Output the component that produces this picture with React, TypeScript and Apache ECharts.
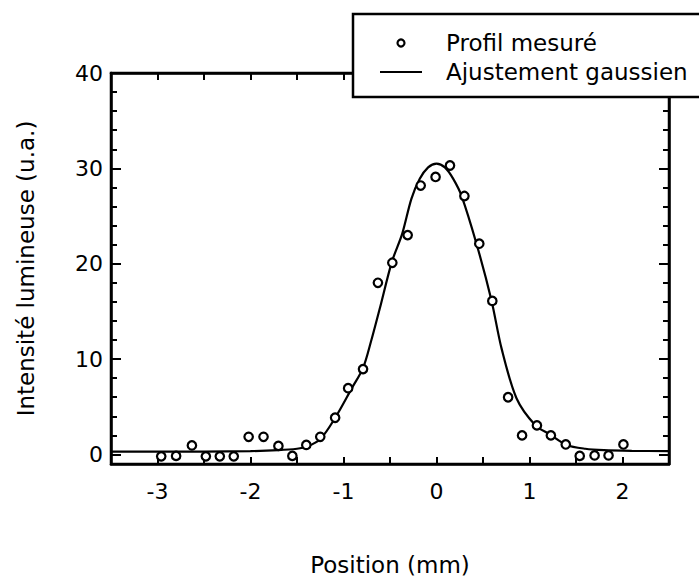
import React, { useEffect, useRef } from "react";
import * as echarts from "echarts";

// Measured profile (mm, a.u.)
const measuredX = [-2.96, -2.8, -2.63, -2.48, -2.33, -2.18, -2.02, -1.86, -1.7, -1.55, -1.4, -1.25, -1.09, -0.95, -0.79, -0.63, -0.475, -0.31, -0.17, -0.01, 0.145, 0.3, 0.46, 0.6, 0.77, 0.92, 1.08, 1.23, 1.39, 1.54, 1.7, 1.85, 2.01];
const measuredY = [-0.2, -0.15, 0.95, -0.2, -0.2, -0.2, 1.85, 1.85, 0.9, -0.15, 1.0, 1.85, 3.85, 6.95, 8.95, 18.0, 20.1, 23.0, 28.2, 29.1, 30.3, 27.1, 22.1, 16.1, 6.0, 2.0, 3.05, 2.0, 1.05, -0.15, -0.1, -0.1, 1.05];

// Gaussian fit curve
const fitX = [-3.5, -2.5, -2.0, -1.7, -1.5, -1.4, -1.25, -1.08, -0.91, -0.79, -0.7, -0.61, -0.48, -0.37, -0.27, -0.18, -0.09, 0, 0.09, 0.18, 0.27, 0.43, 0.59, 0.7, 0.86, 1.06, 1.22, 1.4, 1.6, 1.8, 2.1, 2.5];
const fitY = [0.3, 0.3, 0.35, 0.45, 0.6, 0.8, 1.6, 4.0, 6.96, 9.05, 12.0, 15.3, 20.2, 23.1, 26.8, 28.9, 30.1, 30.5, 30.1, 28.9, 27.1, 22.1, 16.2, 11.1, 5.9, 3.1, 2.1, 1.0, 0.6, 0.45, 0.38, 0.35];

const yMajorTicks = [0, 10, 20, 30, 40];
const yMinorTicks = [2, 4, 6, 8, 12, 14, 16, 18, 22, 24, 26, 28, 32, 34, 36, 38];
const legendLabels = ["Profil mesuré", "Ajustement gaussien"];
const xTitle = "Position (mm)";
const yTitle = "Intensité lumineuse (u.a.)";

const FONT = "'DejaVu Sans', sans-serif";

export default function App() {
  const ref = useRef<HTMLDivElement>(null);
  useEffect(() => {
    if (!ref.current) return;
    const chart = echarts.init(ref.current, undefined, { renderer: "svg" });
    const line = { show: true, onZero: false, lineStyle: { color: "#000", width: 2.5 } };
    const noLine = { show: false, onZero: false };
    const yBase = { type: "value", min: -1, max: 40, splitLine: { show: false } };
    const xBase = {
      type: "value",
      min: -3.5,
      max: 2.5,
      interval: 0.5,
      splitLine: { show: false },
      axisLine: line,
      axisTick: { show: true, inside: true, length: 7, lineStyle: { color: "#000", width: 2 } },
    };
    const scatterData = measuredX.map((x, i) => [x, measuredY[i]]);
    const fitData = fitX.map((x, i) => [x, fitY[i]]);
    chart.setOption({
      animation: false,
      backgroundColor: "#fff",
      grid: { left: 111, top: 73, right: 30, bottom: 114, show: true, borderColor: "#000", borderWidth: 2.5 },
      xAxis: [
        {
          ...xBase,
          position: "bottom",
          axisLabel: {
            color: "#000",
            fontSize: 22,
            fontFamily: FONT,
            margin: 16,
            formatter: (v: number) => (Math.abs(v - Math.round(v)) < 1e-9 ? String(Math.round(v)) : ""),
          },
          name: xTitle,
          nameLocation: "middle",
          nameGap: 89,
          nameTextStyle: { color: "#000", fontSize: 23, fontFamily: FONT },
        },
        { ...xBase, position: "top", axisLabel: { show: false } },
      ],
      yAxis: [
        {
          ...yBase,
          position: "left",
          axisLine: line,
          axisTick: { show: true, inside: true, length: 10, customValues: yMajorTicks, lineStyle: { color: "#000", width: 2 } },
          axisLabel: { customValues: yMajorTicks, color: "#000", fontSize: 22, fontFamily: FONT, margin: 8 },
          name: yTitle,
          nameLocation: "middle",
          nameGap: 74,
          nameTextStyle: { color: "#000", fontSize: 23, fontFamily: FONT },
        },
        {
          ...yBase,
          position: "left",
          axisLine: noLine,
          axisTick: { show: true, inside: true, length: 6, customValues: yMinorTicks, lineStyle: { color: "#000", width: 2 } },
          axisLabel: { show: false },
        },
        {
          ...yBase,
          position: "right",
          axisLine: line,
          axisTick: { show: true, inside: true, length: 10, customValues: yMajorTicks, lineStyle: { color: "#000", width: 2 } },
          axisLabel: { show: false },
        },
        {
          ...yBase,
          position: "right",
          axisLine: noLine,
          axisTick: { show: true, inside: true, length: 6, customValues: yMinorTicks, lineStyle: { color: "#000", width: 2 } },
          axisLabel: { show: false },
        },
      ],
      series: [
        {
          type: "line",
          name: legendLabels[1],
          data: fitData,
          smooth: 0.3,
          showSymbol: false,
          lineStyle: { color: "#000", width: 2.2 },
          z: 2,
        },
        {
          type: "scatter",
          name: legendLabels[0],
          data: scatterData,
          symbol: "circle",
          symbolSize: 8.5,
          itemStyle: { color: "#fff", borderColor: "#000", borderWidth: 2.2, opacity: 1 },
          z: 3,
        },
      ],
      graphic: [
        { type: "rect", z: 100, shape: { x: 353, y: 14, width: 360, height: 83 }, style: { fill: "#fff", stroke: "#000", lineWidth: 2.5 } },
        { type: "circle", z: 101, shape: { cx: 401, cy: 43, r: 3.5 }, style: { fill: "#fff", stroke: "#000", lineWidth: 2.2 } },
        { type: "line", z: 101, shape: { x1: 380, y1: 72, x2: 422, y2: 72 }, style: { stroke: "#000", lineWidth: 2.2 } },
        { type: "text", z: 101, x: 446, y: 43, style: { text: legendLabels[0], fill: "#000", fontSize: 23, fontFamily: FONT, verticalAlign: "middle" } },
        { type: "text", z: 101, x: 446, y: 72, style: { text: legendLabels[1], fill: "#000", fontSize: 23, fontFamily: FONT, verticalAlign: "middle" } },
      ],
    });
    return () => chart.dispose();
  }, []);
  return <div ref={ref} style={{ position: "fixed", left: 0, top: 0, width: 699, height: 581 }} />;
}
